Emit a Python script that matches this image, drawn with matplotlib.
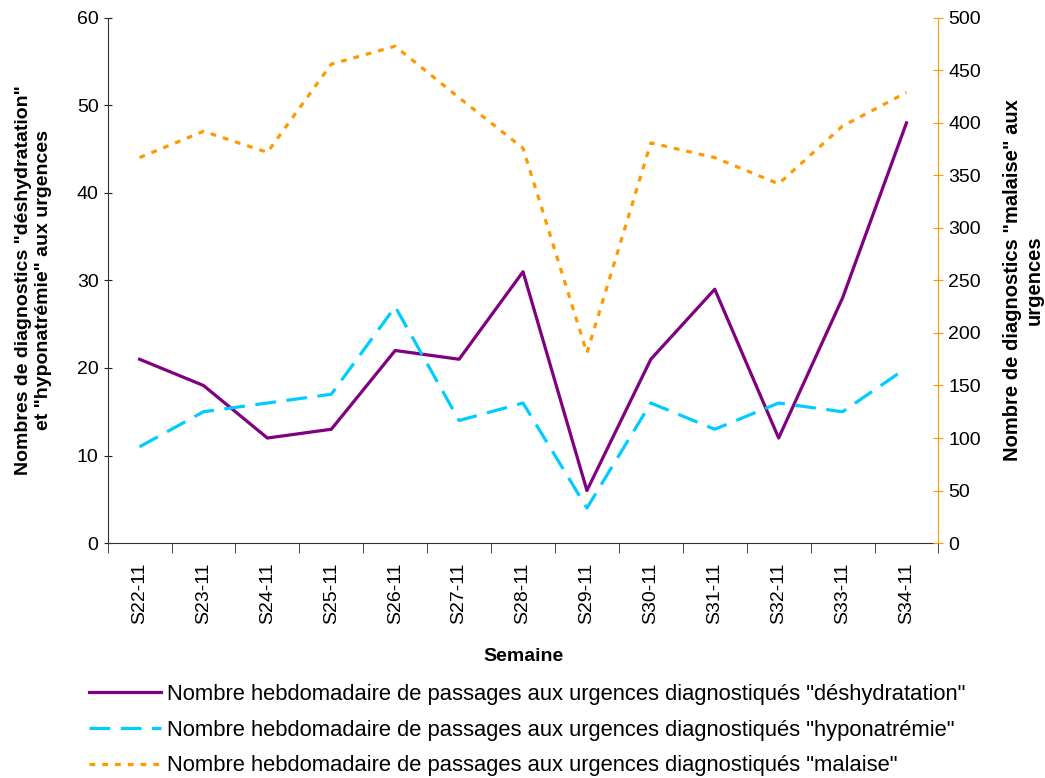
import matplotlib
matplotlib.use('Agg')
from matplotlib import pyplot as plt
import numpy as np

plt.rcParams['font.family'] = ['Liberation Sans', 'DejaVu Sans']

semaines = ['S22-11', 'S23-11', 'S24-11', 'S25-11', 'S26-11', 'S27-11', 'S28-11',
            'S29-11', 'S30-11', 'S31-11', 'S32-11', 'S33-11', 'S34-11']
deshydratation = [21, 18, 12, 13, 22, 21, 31, 6, 21, 29, 12, 28, 48]
hyponatremie = [11, 15, 16, 17, 27, 14, 16, 4, 16, 13, 16, 15, 20]
malaise = [367, 392, 372, 456, 473, 424, 376, 181, 381, 367, 342, 397, 429]

violet = '#800080'
cyan = '#00CCFF'
orange = '#FF9900'

fig = plt.figure(figsize=(10.45, 7.78), dpi=100)
ax = fig.add_axes([0.103, 0.302, 0.795, 0.675])
ax2 = ax.twinx()

x = np.arange(len(semaines))
l1, = ax.plot(x, deshydratation, color=violet, linewidth=2.3)
l2, = ax.plot(x, hyponatremie, color=cyan, linewidth=2.3, dashes=(6.5, 3.3))
l3, = ax2.plot(x, malaise, color=orange, linewidth=2.3, dashes=(1.8, 2.2))

ax.set_xlim(-0.5, len(semaines) - 0.5)
ax.set_ylim(0, 60)
ax2.set_ylim(0, 500)
ax.set_yticks(range(0, 61, 10))
ax2.set_yticks(range(0, 501, 50))

ax.set_xticks(x)
ax.set_xticklabels(semaines, rotation=90, fontsize=14)
ax.set_xticks(np.arange(-0.5, len(semaines)), minor=True)
ax.tick_params(axis='x', which='major', length=0, pad=14)
ax.tick_params(axis='x', which='minor', length=7, direction='out', color='#222222')
ax.tick_params(axis='y', labelsize=14, length=6, direction='inout', color='#222222')
ax2.tick_params(axis='y', labelsize=14, length=7, direction='inout', colors=orange,
                labelcolor='black')

ax.spines['top'].set_visible(False)
ax2.spines['top'].set_visible(False)
ax.spines['right'].set_visible(False)
ax2.spines['left'].set_visible(False)
ax2.spines['bottom'].set_visible(False)
ax2.spines['right'].set_color(orange)
ax.spines['left'].set_color('#333333')
ax.spines['bottom'].set_color('#333333')

ax.set_ylabel('Nombres de diagnostics "déshydratation"\net "hyponatrémie" aux urgences',
              fontsize=14, fontweight='bold', labelpad=18)
ax2.set_ylabel('Nombre de diagnostics "malaise" aux\nurgences', fontsize=14.5,
               fontweight='bold', rotation=90, labelpad=16)
ax.set_xlabel('Semaine', fontsize=14, fontweight='bold', labelpad=17)

fig.legend([l1, l2, l3],
           ['Nombre hebdomadaire de passages aux urgences diagnostiqués "déshydratation"',
            'Nombre hebdomadaire de passages aux urgences diagnostiqués "hyponatrémie"',
            'Nombre hebdomadaire de passages aux urgences diagnostiqués "malaise"'],
           loc='upper left', bbox_to_anchor=(0.085, 0.121), frameon=False,
           fontsize=15.8, handlelength=3.3, handletextpad=0.25, labelspacing=0.67,
           borderaxespad=0, borderpad=0)

fig.savefig('out.png', dpi=100)
